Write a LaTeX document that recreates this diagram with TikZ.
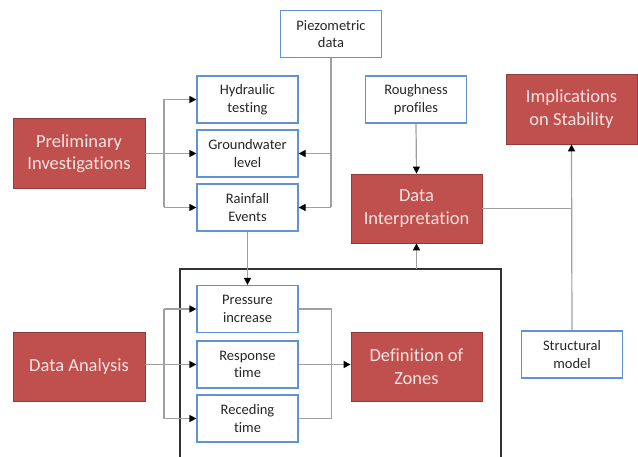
\documentclass[tikz,border=0pt]{standalone}
\usepackage{fontspec}
\setmainfont[Ligatures=NoCommon]{Carlito}
\usetikzlibrary{arrows.meta}
\definecolor{redfill}{HTML}{C0504D}
\definecolor{redline}{HTML}{8E3B39}
\definecolor{blueline}{HTML}{5F93D3}
\definecolor{conngray}{HTML}{A0A0A0}
\definecolor{txtdark}{HTML}{262626}
\definecolor{redtxt}{HTML}{F6E4E3}
\tikzset{
  smallbox/.style={draw=blueline, line width=1.2pt, fill=white, minimum width=101pt, minimum height=47pt,
    inner sep=0pt, align=center, text=txtdark, font=\fontsize{14.5}{17.5}\selectfont},
  redbox/.style={draw=redline, line width=0.8pt, fill=redfill, minimum width=132pt, minimum height=70pt,
    inner sep=0pt, align=center, text=redtxt, font=\fontsize{18.5}{22.5}\selectfont},
  conn/.style={draw=conngray, line width=1.2pt},
  arr/.style={conn, -{Triangle[length=7pt,width=7pt,color=black]}},
  bigbox/.style={draw=black!80, line width=1.4pt}
}
\begin{document}
\begin{tikzpicture}[x=1pt,y=-1pt]
\useasboundingbox (0,0) rectangle (638,457);
% big frame
\coordinate (bbl) at (180,460);
\coordinate (btl) at (180,269);
\coordinate (btr) at (501,269);
\coordinate (bbr) at (501,460);
\draw[bigbox] (bbl) -- (btl) -- (btr) -- (bbr);
% nodes
\node[smallbox] (piezo) at (331,34) {Piezometric\\data};
\node[smallbox] (hyd) at (247.5,99.5) {Hydraulic\\testing};
\node[smallbox] (gw) at (247.5,153.5) {Groundwater\\level};
\node[smallbox] (rain) at (247.5,207.5) {Rainfall\\Events};
\node[redbox] (pi) at (79,153.5) {Preliminary\\Investigations};
\node[smallbox] (rough) at (416,99.5) {Roughness\\profiles};
\node[redbox, minimum width=131pt, minimum height=69pt] (di) at (416.5,208.5) {Data\\Interpretation};
\node[redbox, minimum width=131pt] (imp) at (571.5,109) {Implications\\on Stability};
\node[smallbox] (sm) at (572,354.5) {Structural\\model};
\node[smallbox] (press) at (247.5,309) {Pressure\\increase};
\node[smallbox] (resp) at (247.5,364.5) {Response\\time};
\node[smallbox] (rec) at (247.5,418.5) {Receding\\time};
\node[redbox, minimum height=69pt] (da) at (79,366.5) {Data Analysis};
\node[redbox, minimum width=131pt, minimum height=69pt] (dz) at (416.5,366.5) {Definition of\\Zones};
% branch coordinates
\coordinate (bx1) at (164,0);
\coordinate (jx) at (331.7,0);
% preliminary investigations
\draw[conn] (pi.east) -- (pi.east -| bx1);
\draw[conn] (bx1 |- hyd.west) -- (bx1 |- rain.west);
\draw[arr] (bx1 |- hyd.west) -- (hyd.west);
\draw[arr] (bx1 |- gw.west) -- (gw.west);
\draw[arr] (bx1 |- rain.west) -- (rain.west);
% piezometric
\draw[conn] (piezo.south) -- (piezo.south |- rain.east);
\draw[arr] (piezo.south |- gw.east) -- (gw.east);
\draw[arr] (piezo.south |- rain.east) -- (rain.east);
% rainfall to pressure
\draw[arr] (rain.south) -- (press.north);
% roughness to DI
\draw[arr] (rough.south) -- (di.north);
% frame to DI
\draw[arr] (di.south |- btl) -- (di.south);
% DI to implications
\draw[conn] (di.east) -- (di.east -| sm.north);
\draw[arr] (sm.north) -- (imp.south);
% data analysis
\draw[conn] (da.east |- resp.west) -- (bx1 |- resp.west);
\draw[conn] (bx1 |- press.west) -- (bx1 |- rec.west);
\draw[arr] (bx1 |- press.west) -- (press.west);
\draw[arr] (bx1 |- resp.west) -- (resp.west);
\draw[arr] (bx1 |- rec.west) -- (rec.west);
% to definition of zones
\draw[conn] (press.east) -- (jx |- press.east) -- (jx |- rec.east) -- (rec.east);
\draw[arr] (resp.east) -- (dz.west |- resp.east);
\end{tikzpicture}
\end{document}
